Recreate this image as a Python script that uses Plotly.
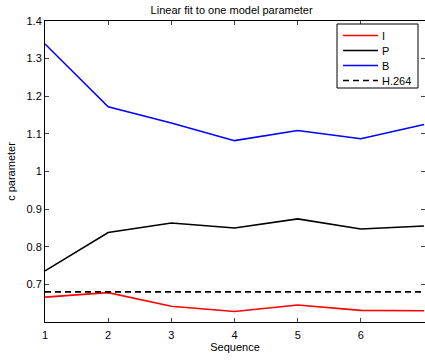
import plotly.graph_objects as go

seq = [1, 2, 3, 4, 5, 6, 7]
I_vals = [0.666, 0.678, 0.642, 0.628, 0.645, 0.631, 0.630]
P_vals = [0.736, 0.838, 0.863, 0.850, 0.874, 0.847, 0.855]
B_vals = [1.339, 1.172, 1.129, 1.082, 1.109, 1.087, 1.125]
h264_val = 0.680
series_names = ["I", "P", "B", "H.264"]
y_ticks = [0.7, 0.8, 0.9, 1.0, 1.1, 1.2, 1.3, 1.4]
y_tick_text = ["0.7", "0.8", "0.9", "1", "1.1", "1.2", "1.3", "1.4"]

colors = ["#ff0000", "#000000", "#0000ff", "#000000"]
dashes = ["solid", "solid", "solid", "6px,4px"]
values = [I_vals, P_vals, B_vals, [h264_val] * len(seq)]

fig = go.Figure()
for name, vals, col, dsh in zip(series_names, values, colors, dashes):
    fig.add_trace(go.Scatter(x=seq, y=vals, mode="lines", name=name, showlegend=False,
                             line=dict(color=col, width=1.6, dash=dsh)))

# Custom MATLAB-style legend (compact rows)
W, H, L, T = 380.0, 301.0, 45.0, 21.0
def px(x):
    return (x - L) / W
def py(y):
    return 1 - (y - T) / H

shapes = [dict(type="rect", xref="paper", yref="paper",
               x0=px(337), x1=px(418), y0=py(88), y1=py(24),
               line=dict(color="black", width=1), fillcolor="white", layer="above")]
annotations = []
for i, (name, col, dsh) in enumerate(zip(series_names, colors, dashes)):
    yy = 35.5 + 15 * i
    shapes.append(dict(type="line", xref="paper", yref="paper",
                       x0=px(343), x1=px(378), y0=py(yy), y1=py(yy),
                       line=dict(color=col, width=1.6, dash=dsh), layer="above"))
    annotations.append(dict(xref="paper", yref="paper", x=px(380), y=py(yy),
                            xanchor="left", yanchor="middle", text=name, showarrow=False,
                            font=dict(size=11, color="black")))

font = "Liberation Sans, Arial, sans-serif"
fig.update_layout(
    width=425, height=360,
    margin=dict(l=45, r=0, t=21, b=38),
    paper_bgcolor="white", plot_bgcolor="white",
    font=dict(family=font, size=11, color="#000000"),
    title=dict(text="Linear fit to one model parameter", x=0.545, xanchor="center",
               y=0.972, yanchor="middle", font=dict(size=11)),
    showlegend=False,
    shapes=shapes,
    annotations=annotations,
    xaxis=dict(range=[1, 7.015], tickvals=seq, ticks="inside", ticklen=4,
               ticklabelstandoff=3,
               showline=True, linecolor="black", linewidth=1, mirror="ticks",
               showgrid=False, zeroline=False,
               title=dict(text="Sequence", standoff=2, font=dict(size=11))),
    yaxis=dict(range=[0.6, 1.4], tickvals=y_ticks, ticktext=y_tick_text,
               ticks="inside", ticklen=4,
               showline=True, linecolor="black", linewidth=1, mirror="ticks",
               showgrid=False, zeroline=False,
               title=dict(text="c parameter", standoff=8, font=dict(size=11))),
)

fig.write_html("out.html", config={"displayModeBar": False},
               post_script="document.body.style.margin='0';document.body.style.overflow='hidden';")
